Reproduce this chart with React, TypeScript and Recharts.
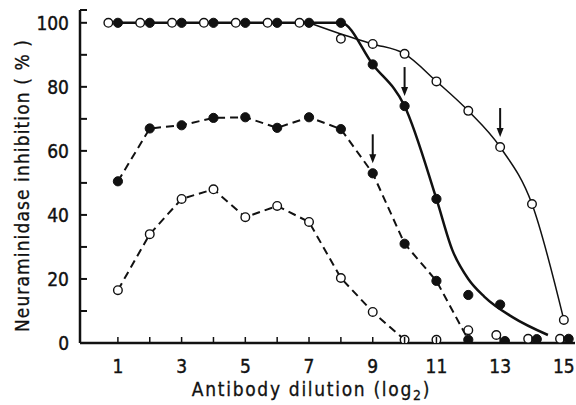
import { LineChart, Line, XAxis, YAxis, ReferenceDot } from "recharts";

// Antibody dilution (log2) steps
const dilution = [1, 2, 3, 4, 5, 6, 7, 8, 9, 10, 11, 12, 13, 14, 15];

// solid thick line, filled circles
const filledSolid = [100, 100, 100, 100, 100, 100, 100, 100, 87, 74, 45, 15, 12, null, null];
// solid thin line, open circles
const openSolid = [100, 100, 100, 100, 100, 100, 100, 95, 93.4, 90.3, 81.7, 72.5, 61.2, 43.4, 7.2];
// dashed line, filled circles
const filledDashed = [50.5, 67, 68, 70.3, 70.5, 67.2, 70.5, 66.8, 53, 31, 19.4, 1, 0.6, 1.2, 1.3];
// dashed line, open circles
const openDashed = [16.5, 34, 45, 48, 39.3, 42.8, 37.8, 20.3, 9.7, 1, 1, 4, 2.5, 1.3, 1.3];

// last dilution each dashed line is drawn to
const filledDashedEnd = 12;
const openDashedEnd = 10;

// hand-fitted solid curves
const filledCurveX = [1, 2, 3, 4, 5, 6, 7, 8, 9, 10, 11, 11.5, 12, 12.5, 13.4, 14.5];
const filledCurveY = [100, 100, 100, 100, 100, 100, 100, 100, 87, 74, 45, 29, 20, 14.5, 8, 2.5];
const openCurveX = [7, 8, 9, 10, 11, 12, 13, 14, 15];
const openCurveY = [100, 96.5, 93.4, 90.3, 81.7, 72.5, 61.2, 43.4, 7.2];

// arrows marking the end points
const arrowX = [9, 10, 13];
const arrowY = [53, 74, 61.2];

const xTicks = dilution;
const yTicks = [0, 10, 20, 30, 40, 50, 60, 70, 80, 90, 100];
const yTop = 104; // axis ends with a small cap above 100

const FONT = "'Liberation Sans Narrow', 'DejaVu Sans Condensed', sans-serif";
const INK = "#111";

const pairs = (xs: number[], ys: (number | null)[]) =>
  xs.map((x, i) => ({ x, y: ys[i] })).filter((p) => p.y != null);

const close = (v: number, list: (number | null)[]) =>
  list.some((w) => w != null && Math.abs(v - w) < 2.5);

// open and filled circles that sit on top of each other are printed side by side
const filledMarks: { x: number; y: number }[] = [];
const openMarks: { x: number; y: number }[] = [];
dilution.forEach((d, i) => {
  const filled = [filledSolid[i], filledDashed[i]];
  const open = [openSolid[i], openDashed[i]];
  filled.forEach((v) => {
    if (v == null) return;
    const dx = v < 50 && close(v, open) ? 0.15 : 0;
    filledMarks.push({ x: d + dx, y: v });
  });
  open.forEach((v) => {
    if (v == null) return;
    const dx = close(v, filled) ? (v > 50 ? -0.3 : -0.12) : 0;
    openMarks.push({ x: d + dx, y: v });
  });
});

const filledCurve = pairs(filledCurveX, filledCurveY);
const openCurve = pairs(openCurveX, openCurveY);
const filledDashLine = pairs(dilution, filledDashed).filter((p) => p.x <= filledDashedEnd);
const openDashLine = pairs(dilution, openDashed).filter((p) => p.x <= openDashedEnd);

const YTick = ({ x, y, payload }: any) => (
  <g>
    <line x1={x} x2={x + 7} y1={y} y2={y} stroke={INK} strokeWidth={2} />
    {payload.value % 20 === 0 && payload.value <= 100 && (
      <text
        x={x - 11}
        y={y}
        dy="0.36em"
        textAnchor="end"
        fontFamily={FONT}
        fontSize={19}
        fill={INK}
        stroke={INK}
        strokeWidth={0.4}
      >
        {payload.value}
      </text>
    )}
  </g>
);

const XTick = ({ x, y, payload }: any) => (
  <g>
    <line x1={x} x2={x} y1={y - 6} y2={y} stroke={INK} strokeWidth={1.5} />
    {payload.value % 2 === 1 && (
      <text
        x={x}
        y={y + 30}
        textAnchor="middle"
        fontFamily={FONT}
        fontSize={19}
        fill={INK}
        stroke={INK}
        strokeWidth={0.4}
      >
        {payload.value}
      </text>
    )}
  </g>
);

const XTitle = ({ viewBox }: any) => (
  <text
    x={viewBox.x + viewBox.width / 2 - 16}
    y={viewBox.y + 53}
    textAnchor="middle"
    fontFamily={FONT}
    fontSize={19}
    letterSpacing={1.7}
    fill={INK}
    stroke={INK}
    strokeWidth={0.3}
  >
    Antibody dilution (log
    <tspan fontSize={14} dy={4}>2</tspan>
    <tspan dy={-4}>)</tspan>
  </text>
);

const YTitle = ({ viewBox }: any) => {
  const cx = viewBox.x + 22;
  const cy = viewBox.y + viewBox.height / 2 + 9;
  return (
    <text
      x={cx}
      y={cy}
      transform={`rotate(-90 ${cx} ${cy})`}
      textAnchor="middle"
      dominantBaseline="central"
      fontFamily={FONT}
      fontSize={19}
      letterSpacing={1.1}
      fill={INK}
      stroke={INK}
      strokeWidth={0.3}
    >
      Neuraminidase inhibition ( % )
    </text>
  );
};

const Arrow = ({ cx, cy }: any) => (
  <g>
    <line x1={cx} x2={cx} y1={cy - 39} y2={cy - 16} stroke={INK} strokeWidth={2} />
    <path d={`M${cx - 3.5},${cy - 19} L${cx + 3.5},${cy - 19} L${cx},${cy - 10} Z`} fill={INK} />
  </g>
);

export default function App() {
  return (
    <div style={{ position: "absolute", left: 0, top: 0, background: "#fff" }}>
      <LineChart width={576} height={405} margin={{ top: 10, right: 1, left: 0, bottom: 0 }}>
        <XAxis
          type="number"
          dataKey="x"
          domain={[-0.19, 15.35]}
          ticks={xTicks}
          interval={0}
          allowDataOverflow
          tickSize={0}
          tickMargin={0}
          tick={<XTick />}
          tickLine={false}
          axisLine={{ stroke: INK, strokeWidth: 2.5 }}
          height={62}
          label={<XTitle />}
        />
        <YAxis
          type="number"
          dataKey="y"
          domain={[0, yTop]}
          ticks={[...yTicks, yTop]}
          interval={0}
          allowDataOverflow
          tickSize={0}
          tickMargin={0}
          tick={<YTick />}
          tickLine={false}
          axisLine={{ stroke: INK, strokeWidth: 2.5 }}
          width={80}
          label={<YTitle />}
        />
        <Line
          data={filledCurve}
          dataKey="y"
          type="monotone"
          stroke={INK}
          strokeWidth={2.5}
          dot={false}
          isAnimationActive={false}
        />
        <Line
          data={openCurve}
          dataKey="y"
          type="monotone"
          stroke={INK}
          strokeWidth={1.5}
          dot={false}
          isAnimationActive={false}
        />
        <Line
          data={filledDashLine}
          dataKey="y"
          type="linear"
          stroke={INK}
          strokeWidth={2}
          strokeDasharray="8 5"
          dot={false}
          isAnimationActive={false}
        />
        <Line
          data={openDashLine}
          dataKey="y"
          type="linear"
          stroke={INK}
          strokeWidth={2}
          strokeDasharray="8 5"
          dot={false}
          isAnimationActive={false}
        />
        <Line
          data={openMarks}
          dataKey="y"
          stroke="none"
          dot={{ r: 4.3, fill: "#fff", stroke: INK, strokeWidth: 1.4 }}
          activeDot={false}
          isAnimationActive={false}
        />
        <Line
          data={filledMarks}
          dataKey="y"
          stroke="none"
          dot={{ r: 4.6, fill: INK, stroke: INK, strokeWidth: 1 }}
          activeDot={false}
          isAnimationActive={false}
        />
        {arrowX.map((ax, i) => (
          <ReferenceDot key={ax} x={ax} y={arrowY[i]} shape={<Arrow />} />
        ))}
      </LineChart>
    </div>
  );
}
